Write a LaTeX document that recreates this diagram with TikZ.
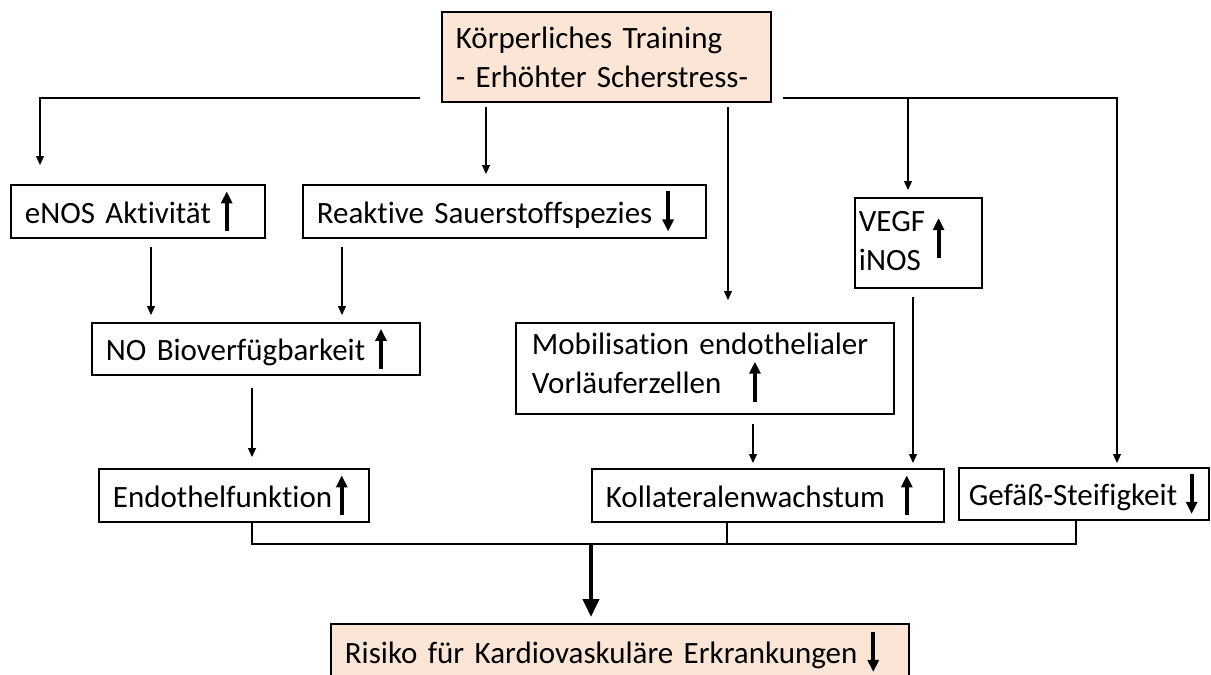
\documentclass[tikz,border=0pt]{standalone}
\usepackage{fontspec}
\setmainfont[Ligatures=NoCommon]{Carlito}
\usetikzlibrary{arrows.meta}
\definecolor{pfirsich}{HTML}{FBE5D6}
\newcommand{\auf}{\tikz[baseline=0pt]\draw[line width=2pt,-{Triangle[length=6pt,width=5.5pt]}] (0pt,-4pt) -- (0pt,16pt);}
\newcommand{\ab}{\tikz[baseline=0pt]\draw[line width=2pt,-{Triangle[length=6pt,width=5.5pt]}] (0pt,16pt) -- (0pt,-4pt);}

\begin{document}
\begin{tikzpicture}[x=0.5pt,y=-0.5pt,font=\fontsize{15.5pt}{19.5pt}\selectfont]
  \tikzstyle{kasten}=[draw,line width=0.9pt,anchor=north west,inner xsep=7pt,inner ysep=0pt,align=left]
  \tikzstyle{pfeil}=[line width=0.6pt,-{Triangle[length=4.5pt,width=4pt]}]
  \tikzstyle{linie}=[line width=0.6pt]
  \tikzstyle{dick}=[line width=2pt,-{Triangle[length=9pt,width=8pt]}]
  \useasboundingbox (0,0) rectangle (1211,675);
  \clip (0,0) rectangle (1211,675);
  % Kaesten
  \node[kasten,fill=pfirsich,text width=150.5pt,minimum height=45pt] (train) at (441,11) {Körperliches Training\\- Erhöhter Scherstress-};
  \node[kasten,text width=113pt,minimum height=26.5pt] (enos) at (10,184) {eNOS Aktivität\ \auf};
  \node[kasten,text width=187.5pt,minimum height=26.5pt] (ros) at (302,184) {Reaktive Sauerstoffspezies\ \ab};
  \node[kasten,inner xsep=2pt,text width=59.5pt,minimum height=45pt] (vegf) at (854,197) {\begin{tabular}{@{}l@{}}VEGF\\iNOS\end{tabular}\hspace{4pt}\auf};
  \node[kasten,text width=150pt,minimum height=26pt] (no) at (91,322) {NO Bioverfügbarkeit\ \auf};
  \node[kasten,inner xsep=8pt,text width=173pt,minimum height=45.5pt] (mobil) at (515,322) {Mobilisation endothelialer\\Vorläuferzellen\hspace{14pt}\auf};
  \node[kasten,text width=121pt,minimum height=26.5pt] (endo) at (98,468) {Endothelfunktion\hspace{2pt}\auf};
  \node[kasten,text width=162pt,minimum height=26.5pt] (koll) at (591,468) {Kollateralenwachstum\ \hspace{3pt}\auf};
  \node[kasten,inner xsep=5pt,text width=115pt,minimum height=26pt] (gef) at (958,467) {Gefäß-Steifigkeit\hspace{4.5pt}\ab};
  \node[kasten,fill=pfirsich,text width=275pt,minimum height=28pt] (risk) at (330,623) {Risiko für Kardiovaskuläre Erkrankungen\ \ab};
  % Pfeile von oben
  \coordinate (l1) at (420,98);
  \coordinate (l2) at (40,98);
  \draw[pfeil,shorten >=9.5pt] (l1) -- (l2) -- (l2 |- enos.north);
  \coordinate (r1) at (486,107);
  \draw[pfeil,shorten >=5pt] (r1) -- (r1 |- ros.north);
  \coordinate (m1) at (728,107);
  \draw[pfeil,shorten >=11pt] (m1) -- (m1 |- mobil.north);
  \coordinate (r2) at (783,98);
  \coordinate (r3) at (1117,98);
  \draw[pfeil,shorten >=2pt] (r2) -- (r3) -- (r3 |- gef.north);
  \coordinate (v1) at (908,98);
  \draw[pfeil,shorten >=3.5pt] (v1) -- (v1 |- vegf.north);
  % Mitte
  \coordinate (n1) at (151,247);
  \coordinate (n2) at (342,247);
  \draw[pfeil,shorten >=3.5pt] (n1) -- (n1 |- no.north);
  \draw[pfeil,shorten >=3.5pt] (n2) -- (n2 |- no.north);
  \coordinate (e1) at (252,388);
  \draw[pfeil,shorten >=5.5pt] (e1) -- (e1 |- endo.north);
  \coordinate (k1) at (753,424);
  \coordinate (k2) at (913,297);
  \draw[pfeil,shorten >=2.5pt] (k1) -- (k1 |- koll.north);
  \draw[pfeil,shorten >=2.5pt] (k2) -- (k2 |- koll.north);
  % zusammenfuehren
  \coordinate (s1) at (252,544);
  \coordinate (s2) at (727,544);
  \coordinate (s3) at (1076,544);
  \coordinate (s0) at (591,544);
  \draw[linie] (endo.south -| s1) -- (s1) -- (s3) -- (gef.south -| s3);
  \draw[linie] (koll.south -| s2) -- (s2);
  \draw[dick,shorten >=3pt] (s0) -- (s0 |- risk.north);
\end{tikzpicture}
\end{document}
